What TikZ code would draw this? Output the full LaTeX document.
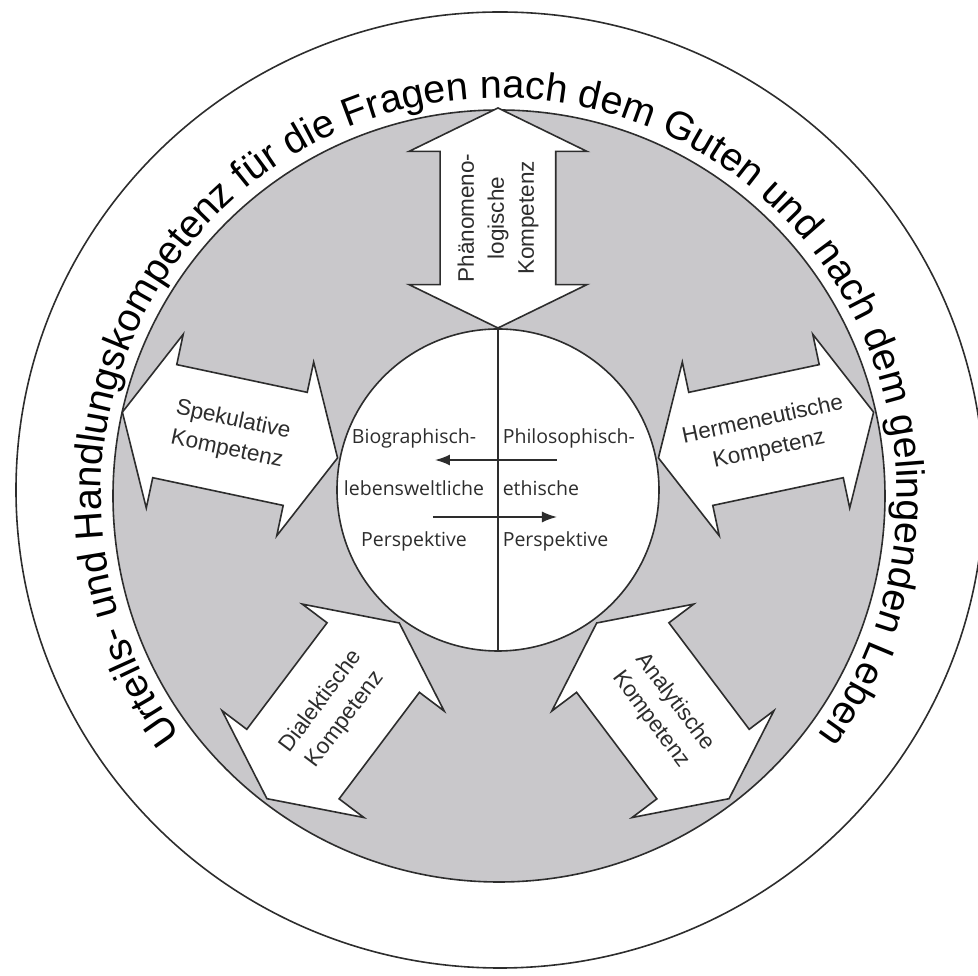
\documentclass[tikz,border=0pt]{standalone}
\usepackage{fontspec}
\setmainfont{Liberation Sans}
\newfontfamily\perspfont{Open Sans}
\usepackage{tikz}
\usetikzlibrary{shapes.arrows, decorations.text, arrows.meta}

\definecolor{diskgray}{RGB}{201,200,203}
\definecolor{ink}{RGB}{45,45,45}
\newcommand{\ringfont}{\fontsize{39.5}{40}\selectfont}

\begin{document}
\begin{tikzpicture}[
	x=1pt, y=1pt,
	line width=1.6pt, color=ink,
	kompetenz/.style={
		double arrow,
		draw, fill=white,
		inner sep=0pt, inner ysep=57pt,
		minimum height=220pt,
		double arrow head extend=31pt,
		double arrow tip angle=128},
	kompetenztext/.style={align=center, font=\fontsize{22.5}{30}\selectfont},
	perspektive/.style={font=\perspfont\fontsize{19.5}{51.5}\selectfont, inner sep=0pt}
	]
	\useasboundingbox (-498,-484) rectangle (480,492);
	\draw (2,2) ellipse [x radius=484, y radius=478];
	\node[circle, draw, fill=diskgray, minimum size=772pt, inner sep=0pt] (disk) at (1,-4) {};
	
	% Kompetenzen
	\node[kompetenz, rotate=90] (phaen) at (90:274) {};
	\node[kompetenz, rotate=-12] (spek) at (168:274) {};
	\node[kompetenz, rotate=12] (herm) at (12:274) {};
	\node[kompetenz, rotate=53] (dial) at (233:274) {};
	\node[kompetenz, rotate=-53] (anal) at (307:274) {};
	
	\node[kompetenztext, rotate=90] (phaentext) at (phaen) {Phänomeno-\\logische\\Kompetenz};
	\node[kompetenztext, rotate=-12] (spektext) at (spek) {Spekulative\\Kompetenz};
	\node[kompetenztext, rotate=12] (hermtext) at (herm) {Hermeneutische\\Kompetenz};
	\node[kompetenztext, rotate=53] (dialtext) at (dial) {Dialektische\\Kompetenz};
	\node[kompetenztext, rotate=-53] (analtext) at (anal) {Analytische\\Kompetenz};
	
	% Perspektiven
	\node[circle, draw, fill=white, minimum size=322pt, inner sep=0pt] (mitte) at (0,2) {};
	\draw (mitte.north) -- (mitte.south);
	\node[perspektive, align=center] (bio) at (-84,2) {Biographisch-\\lebensweltliche\\Perspektive};
	\node[perspektive, align=left, anchor=west] (philo) at (4,2) {Philosophisch-\\ethische\\Perspektive};
	\coordinate (philooben) at (59,32);
	\coordinate (biooben) at (-63,32);
	\coordinate (biounten) at (-65,-25);
	\coordinate (philounten) at (59,-25);
	\draw[-{Latex[length=15pt,width=11pt]}] (philooben) -- (biooben);
	\draw[-{Latex[length=15pt,width=11pt]}] (biounten) -- (philounten);
	
	\path[decorate, decoration={text along path, text align=center,
		text={|\ringfont|Urteils- und Handlungskompetenz für die Fragen nach dem Guten und nach dem gelingenden Leben}}]
		(disk.center) ++(225:398) arc[start angle=225, end angle=-45, radius=398];
\end{tikzpicture}
\end{document}
